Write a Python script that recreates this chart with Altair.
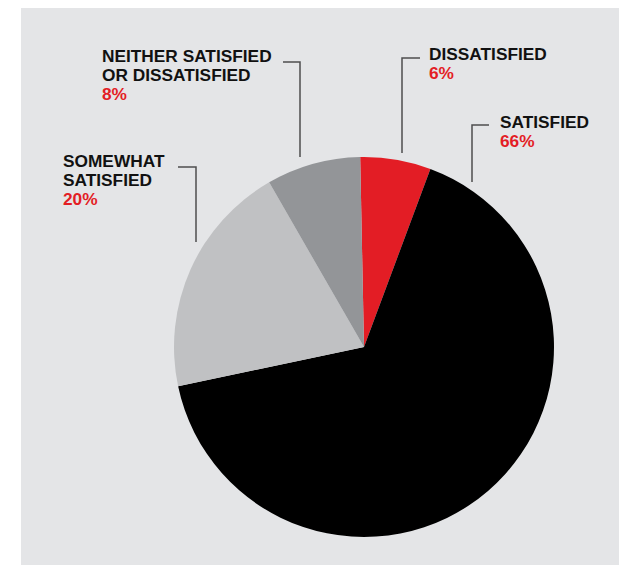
import altair as alt
import pandas as pd

# ---- data ----
categories = ["Dissatisfied", "Satisfied", "Somewhat satisfied", "Neither satisfied or dissatisfied"]
values = [6, 66, 20, 8]
slice_order = [0, 1, 2, 3]
colors = ["#e31d25", "#000000", "#c0c1c3", "#939598"]

label_texts = ["DISSATISFIED", "SATISFIED", "SOMEWHAT\nSATISFIED", "NEITHER SATISFIED\nOR DISSATISFIED"]
pct_texts = [f"{v}%" for v in values]

# label anchor positions (pixels in plot area)
label_x = [408, 479, 42, 81]
label_y = [52, 120, 159, 54]
pct_y = [70.5, 139, 196.5, 91.5]

# leader lines: (x, y) points for each label
leader_pts = {
    "Dissatisfied": [(399, 50), (381, 50), (381, 145)],
    "Satisfied": [(468, 117), (451, 117), (451, 174)],
    "Somewhat satisfied": [(157, 159), (175, 159), (175, 234)],
    "Neither satisfied or dissatisfied": [(262, 54), (279, 54), (279, 149)],
}

W, H = 598, 557
CX, CY, R = 343, 339, 190
FONT = "Liberation Sans"
FS = 17.3

pie_df = pd.DataFrame({"category": categories, "value": values, "order": slice_order})
lab_df = pd.DataFrame({"category": categories, "text": label_texts, "pct": pct_texts,
                       "lx": label_x, "ly": label_y, "py": pct_y})
rows = []
for cat, pts in leader_pts.items():
    for i, (x, y) in enumerate(pts):
        rows.append({"category": cat, "i": i, "x": x, "y": y})
lead_df = pd.DataFrame(rows)

pie = alt.Chart(pie_df).mark_arc(outerRadius=R, stroke=None).encode(
    theta=alt.Theta("value:Q", stack=True, scale=alt.Scale(range=[-0.02, 6.2632])),
    order=alt.Order("order:Q"),
    color=alt.Color("category:N", scale=alt.Scale(domain=categories, range=colors), legend=None),
    x=alt.value(CX),
    y=alt.value(CY),
)

leaders = alt.Chart(lead_df).mark_line(color="#4d4d4f", strokeWidth=1.5).encode(
    x=alt.X("x:Q", scale=None, axis=None),
    y=alt.Y("y:Q", scale=None, axis=None),
    detail="category:N",
    order="i:Q",
)

labels = alt.Chart(lab_df).mark_text(
    align="left", baseline="alphabetic", font=FONT, fontWeight="bold", fontSize=FS,
    color="#111111", lineBreak="\n", lineHeight=18.8,
).encode(
    x=alt.X("lx:Q", scale=None, axis=None),
    y=alt.Y("ly:Q", scale=None, axis=None),
    text="text:N",
)

pcts = alt.Chart(lab_df).mark_text(
    align="left", baseline="alphabetic", font=FONT, fontWeight="bold", fontSize=FS,
    color="#e31d25",
).encode(
    x=alt.X("lx:Q", scale=None, axis=None),
    y=alt.Y("py:Q", scale=None, axis=None),
    text="pct:N",
)

chart = alt.layer(pie, leaders, labels, pcts).properties(
    width=W, height=H,
    autosize=alt.AutoSizeParams(type="none"),
    padding={"left": 13, "top": 0, "right": 0, "bottom": 0},
    background="#ffffff",
).configure_view(fill="#e4e5e7", stroke=None)

chart.save("out.html", embed_options={"renderer": "svg", "actions": False})
